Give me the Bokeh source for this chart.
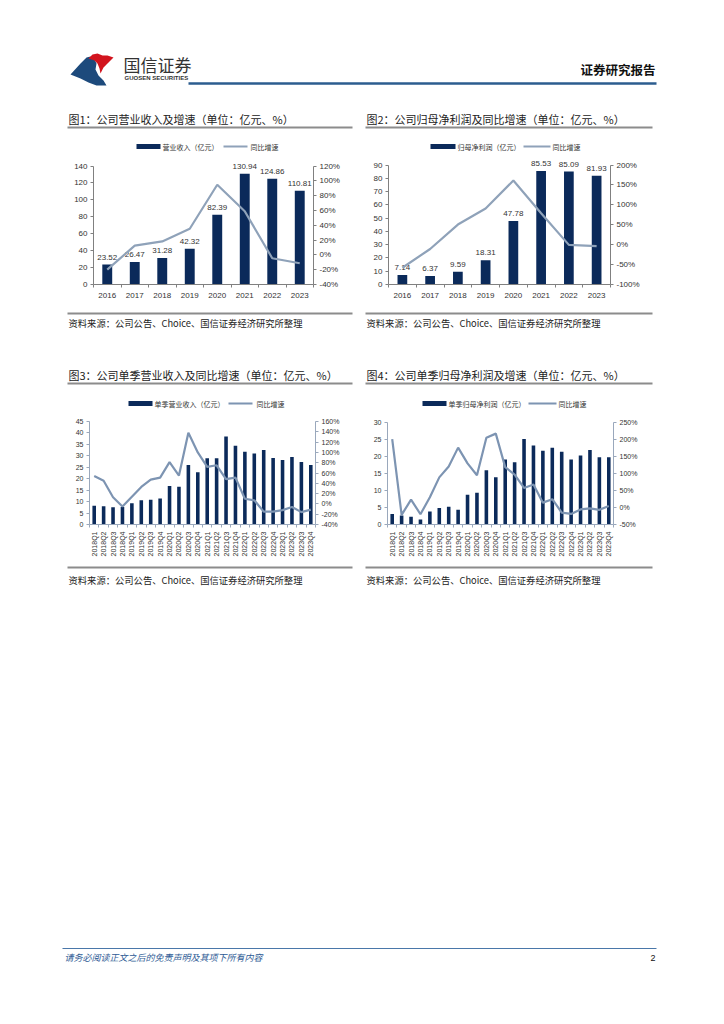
import math
from bokeh.plotting import figure
from bokeh.models import Range1d, LinearAxis, FixedTicker, PrintfTickFormatter
from bokeh.layouts import column, row
from bokeh.embed import file_html
from bokeh.resources import INLINE
from bokeh.core.properties import value

# ---------------- data ----------------
years = ["2016", "2017", "2018", "2019", "2020", "2021", "2022", "2023"]
revenue = [23.52, 26.47, 31.28, 42.32, 82.39, 130.94, 124.86, 110.81]
revenue_yoy = [-20.0, 12.5, 18.2, 35.3, 94.7, 58.9, -4.6, -11.3]
net_profit = [7.14, 6.37, 9.59, 18.31, 47.78, 85.53, 85.09, 81.93]
net_profit_yoy = [-58.0, -10.8, 50.5, 90.9, 161.0, 79.0, -0.5, -3.7]

quarters = ["2018Q1", "2018Q2", "2018Q3", "2018Q4", "2019Q1", "2019Q2", "2019Q3", "2019Q4",
            "2020Q1", "2020Q2", "2020Q3", "2020Q4", "2021Q1", "2021Q2", "2021Q3", "2021Q4",
            "2022Q1", "2022Q2", "2022Q3", "2022Q4", "2023Q1", "2023Q2", "2023Q3", "2023Q4"]
q_revenue = [8.2, 8.0, 7.5, 7.6, 9.3, 10.6, 10.8, 11.4, 16.8, 16.5, 26.0, 22.8,
             28.9, 28.9, 38.4, 34.4, 31.8, 31.0, 32.6, 29.1, 28.2, 29.5, 27.3, 26.0]
q_revenue_yoy = [54, 45, 13, -5, 14, 33, 47, 51, 81, 55, 138, 100,
                 72, 75, 48, 51, 10, 7, -15, -15, -12, -6, -16, -11]
q_profit = [3.1, 2.6, 2.3, 1.5, 3.8, 4.8, 5.2, 4.3, 8.7, 9.3, 15.9, 13.8,
            19.0, 18.2, 25.0, 23.1, 21.6, 22.5, 21.3, 19.0, 20.2, 21.8, 19.7, 19.7]
q_profit_yoy = [200, -22, 23, -20, 30, 88, 120, 175, 129, 94, 204, 216,
                118, 96, 57, 67, 14, 24, -15, -19, -6, -3, -7, 4]

titles = ["图1：公司营业收入及增速（单位：亿元、%）",
          "图2：公司归母净利润及同比增速（单位：亿元、%）",
          "图3：公司单季营业收入及同比增速（单位：亿元、%）",
          "图4：公司单季归母净利润及增速（单位：亿元、%）"]
bar_names = ["营业收入（亿元）", "归母净利润（亿元）", "单季营业收入（亿元）", "单季归母净利润（亿元）"]
line_name = "同比增速"
source_text = "资料来源：公司公告、Choice、国信证券经济研究所整理"

# ---------------- style ----------------
NAVY = "#0b2a5a"
LINE12 = "#8fa2b9"
LINE34 = "#7d94b2"
CJK = "'Noto Sans CJK SC', sans-serif"
LAT = "'Liberation Sans', 'Noto Sans CJK SC', sans-serif"
TXT = "#333333"
W = 708


def canvas(y0, h):
    f = figure(width=W, height=h, x_range=Range1d(0, W), y_range=Range1d(y0 + h, y0),
               toolbar_location=None, output_backend="svg", min_border=0,
               x_axis_location=None, y_axis_location=None)
    f.grid.visible = False
    f.outline_line_color = None
    return f


def txt(f, x, y, s, size, font=CJK, color=TXT, align="left", style="normal"):
    f.text(x=[x], y=[y], text=[s], text_font=value(font), text_font_size=size,
           text_color=color, text_baseline="middle", text_align=align, text_font_style=style)


def title_block(f, title, ty, uy, ux0, ux1, leg, name, lcol):
    txt(f, ux0 + 1, ty, title, "11px", color="#222222")
    f.line(x=[ux0, ux1], y=[uy, uy], line_color="#8c8c8c", line_width=2)
    ly, bx0, bx1, t1, lx0, lx1, t2 = leg
    f.quad(left=[bx0], right=[bx1], top=[ly - 2.5], bottom=[ly + 2.5], fill_color=NAVY, line_color=None)
    txt(f, t1, ly, name, "7px")
    f.line(x=[lx0, lx1], y=[ly, ly], line_color=lcol, line_width=2)
    txt(f, t2, ly, line_name, "7px")


def source_block(f, ly, ty, ux0, ux1):
    f.line(x=[ux0, ux1], y=[ly, ly], line_color="#8c8c8c", line_width=2)
    txt(f, ux0 + 1, ty, source_text, "9.3px", color="#222222")


def chart(x0, y0, w, h, fl, fr, ft, fb, top_px, cats, bars, growth,
          lmax, lstep, pmin, pmax, pstep, bar_w, show_labels, fsize, rotate, axis_col, line_col):
    n = len(cats)
    frame_h = fb - ft
    scale = (fb - top_px) / lmax
    pscale = (fb - top_px) / (pmax - pmin)
    p = figure(width=w, height=h, x_range=Range1d(-0.5, n - 0.5),
               y_range=Range1d(0, frame_h / scale),
               min_border_left=fl - x0, min_border_right=x0 + w - fr,
               min_border_top=ft - y0, min_border_bottom=y0 + h - fb,
               toolbar_location=None, output_backend="svg")
    p.extra_y_ranges = {"pct": Range1d(pmin, pmin + frame_h / pscale)}
    p.grid.visible = False
    p.outline_line_color = None
    idx = list(range(n))
    p.vbar(x=idx, top=bars, width=bar_w, fill_color=NAVY, line_color=None)
    if show_labels:
        p.text(x=idx, y=bars, text=["%.2f" % v for v in bars], y_offset=-5,
               text_align="center", text_baseline="bottom", text_font=value(LAT),
               text_font_size="8px", text_color=TXT)
    p.line(x=idx, y=growth, y_range_name="pct", line_color=line_col, line_width=2.2)

    xa = p.xaxis[0]
    xa.ticker = FixedTicker(ticks=idx, minor_ticks=[i - 0.5 for i in range(n + 1)])
    xa.major_label_overrides = {i: c for i, c in enumerate(cats)}
    xa.major_tick_out = 0
    xa.major_tick_in = 0
    xa.minor_tick_out = 3
    xa.minor_tick_in = 0
    xa.minor_tick_line_color = axis_col
    xa.axis_line_color = axis_col
    xa.major_label_text_font = LAT
    xa.major_label_text_font_size = fsize
    xa.major_label_text_color = TXT
    if rotate:
        xa.major_label_orientation = math.pi / 2
        xa.major_label_standoff = 4
    else:
        xa.major_label_standoff = 5

    ya = p.yaxis[0]
    ya.ticker = FixedTicker(ticks=list(range(0, lmax + 1, lstep)))
    ya.bounds = (0, lmax)
    ra = LinearAxis(y_range_name="pct", ticker=FixedTicker(ticks=list(range(pmin, pmax + 1, pstep))),
                    formatter=PrintfTickFormatter(format="%d%%"), bounds=(pmin, pmax))
    p.add_layout(ra, "right")
    for a in (ya, ra):
        a.axis_line_color = axis_col
        a.major_tick_line_color = axis_col
        a.major_tick_out = 3
        a.major_tick_in = 0
        a.minor_tick_out = 0
        a.minor_tick_in = 0
        a.major_label_standoff = 3
        a.major_label_text_font = LAT
        a.major_label_text_font_size = fsize
        a.major_label_text_color = TXT
    return p


# ---------------- header (y 0..153) ----------------
head = canvas(0, 153)
head.patch(x=[70, 80, 86, 90, 94, 96, 95, 98, 103, 106, 96, 88, 80],
           y=[74, 63, 57, 56, 59, 63, 69, 75, 80, 85, 85, 82, 78], fill_color="#1d4a7c", line_color=None)
head.patch(x=[88, 92, 97, 102, 107, 113, 108, 103, 100, 99, 97, 94, 91],
           y=[58, 54, 53, 55, 55, 57, 62, 67, 73, 68, 63, 60, 59], fill_color="#d2141e", line_color=None)
txt(head, 123, 64, "国信证券", "17px", color="#333333")
txt(head, 124, 77, "GUOSEN SECURITIES", "6px", font=LAT, color="#333333", style="bold")
head.line(x=[188, 656], y=[83, 83], line_color="#2c5d8f", line_width=2.5)
txt(head, 655, 69, "证券研究报告", "12.5px", color="#111111", align="right", style="bold")
title_block(head, titles[0], 118, 127, 67, 352, (146, 136, 160, 162, 223, 247, 250), bar_names[0], LINE12)
title_block(head, titles[1], 118, 127, 365, 652, (146, 430, 455, 457, 523, 550, 552), bar_names[1], LINE12)

# ---------------- row 1 charts (y 153..305) ----------------
c1 = chart(0, 153, 362, 152, 93, 313, 153, 284, 165.5, years, revenue, revenue_yoy,
           140, 20, -40, 120, 20, 0.36, True, "8px", False, "#808080", LINE12)
c2 = chart(362, 153, 346, 152, 388, 610, 153, 284, 164.5, years, net_profit, net_profit_yoy,
           90, 10, -100, 200, 50, 0.35, True, "8px", False, "#808080", LINE12)

# ---------------- middle (y 305..410) ----------------
mid = canvas(305, 105)
source_block(mid, 313, 322, 67, 352)
source_block(mid, 313, 322, 365, 652)
title_block(mid, titles[2], 374, 383, 67, 352, (403, 128, 152, 154, 228, 252, 256), bar_names[2], LINE34)
title_block(mid, titles[3], 374, 383, 365, 652, (403, 422, 446, 448, 528, 556, 558), bar_names[3], LINE34)

# ---------------- row 2 charts (y 410..560) ----------------
c3 = chart(0, 410, 362, 150, 89, 315, 410, 524, 421, quarters, q_revenue, q_revenue_yoy,
           45, 5, -40, 160, 20, 0.38, False, "7px", True, "#9aa8bc", LINE34)
c4 = chart(362, 410, 346, 150, 387, 613, 410, 524, 421.5, quarters, q_profit, q_profit_yoy,
           30, 5, -50, 250, 50, 0.38, False, "7px", True, "#9aa8bc", LINE34)

# ---------------- bottom (y 560..1008) ----------------
bot = canvas(560, 448)
source_block(bot, 567, 579, 67, 352)
source_block(bot, 567, 579, 365, 652)
bot.line(x=[62, 656], y=[948, 948], line_color="#4a77a9", line_width=1)
txt(bot, 64, 957, "请务必阅读正文之后的免责声明及其项下所有内容", "9px", color="#2e5b95", style="italic")
txt(bot, 655, 957, "2", "9px", font=LAT, color="#111111", align="right")

page = column(head, row(c1, c2), mid, row(c3, c4), bot)

open("out.html", "w").write(file_html(page, INLINE))
